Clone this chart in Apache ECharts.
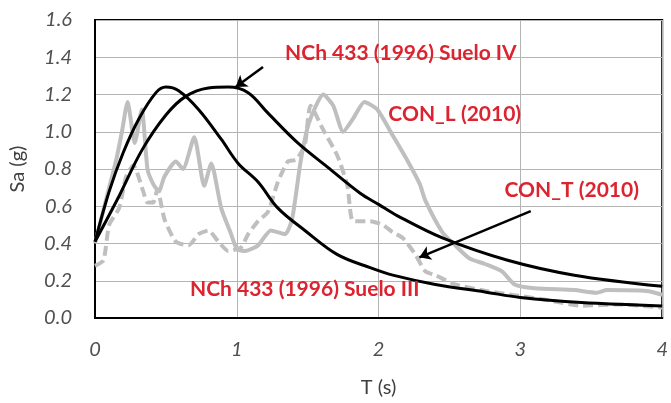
<!DOCTYPE html>
<html>
<head>
<meta charset="utf-8">
<script src="https://cdn.jsdelivr.net/npm/echarts@6/dist/echarts.min.js"></script>
<style>
  html, body { margin: 0; padding: 0; background: #fff; }
  #chart { width: 671px; height: 403px; }
</style>
</head>
<body>
<div id="chart"></div>
<script>
// ── Data (T in s, Sa in g) ────────────────────────────────────────────────────
var tSuelo3  = [0, 0.1, 0.2, 0.31, 0.43, 0.5, 0.59, 0.73, 0.89, 1.01, 1.15, 1.29, 1.48, 1.71, 1.94, 2.1, 2.4, 2.75, 3.0, 3.43, 4.0];
var saSuelo3 = [0.41, 0.68, 0.89, 1.07, 1.21, 1.24, 1.22, 1.12, 0.96, 0.83, 0.73, 0.59, 0.47, 0.34, 0.27, 0.23, 0.18, 0.14, 0.11, 0.083, 0.065];

var tSuelo4  = [0, 0.16, 0.33, 0.5, 0.64, 0.8, 0.94, 1.08, 1.22, 1.43, 1.64, 1.87, 2.0, 2.13, 2.45, 2.91, 3.38, 4.0];
var saSuelo4 = [0.41, 0.64, 0.90, 1.09, 1.19, 1.235, 1.24, 1.21, 1.10, 0.94, 0.81, 0.67, 0.61, 0.55, 0.43, 0.31, 0.23, 0.17];

var tConL  = [0, 0.05, 0.1, 0.15, 0.19, 0.23, 0.28, 0.33, 0.37, 0.41, 0.45, 0.49, 0.57, 0.62, 0.70, 0.77, 0.82, 0.89, 0.96, 1.0, 1.06, 1.15, 1.24, 1.34, 1.39, 1.45, 1.51, 1.61, 1.68, 1.75, 1.82, 1.90, 1.99, 2.10, 2.2, 2.29, 2.33, 2.45, 2.54, 2.64, 2.75, 2.87, 2.96, 3.1, 3.38, 3.54, 3.61, 3.89, 4.0];
var saConL = [0.40, 0.55, 0.70, 0.85, 1.0, 1.16, 0.94, 1.12, 0.80, 0.72, 0.68, 0.76, 0.84, 0.80, 0.97, 0.71, 0.83, 0.59, 0.45, 0.37, 0.36, 0.39, 0.47, 0.45, 0.53, 0.84, 1.05, 1.20, 1.14, 1.00, 1.07, 1.16, 1.12, 0.98, 0.85, 0.72, 0.63, 0.46, 0.39, 0.32, 0.29, 0.25, 0.18, 0.16, 0.15, 0.136, 0.15, 0.145, 0.125];

var tConT  = [0, 0.06, 0.10, 0.17, 0.22, 0.27, 0.34, 0.37, 0.41, 0.44, 0.49, 0.57, 0.66, 0.73, 0.80, 0.87, 0.94, 1.03, 1.08, 1.15, 1.22, 1.29, 1.36, 1.42, 1.48, 1.52, 1.61, 1.71, 1.78, 1.82, 1.94, 2.03, 2.10, 2.17, 2.26, 2.33, 2.4, 2.54, 2.75, 2.98, 3.2, 3.43, 3.7, 4.0];
var saConT = [0.28, 0.31, 0.50, 0.59, 0.76, 0.82, 0.68, 0.62, 0.62, 0.69, 0.53, 0.41, 0.39, 0.45, 0.47, 0.41, 0.36, 0.38, 0.45, 0.52, 0.57, 0.73, 0.84, 0.85, 0.93, 1.14, 1.01, 0.87, 0.71, 0.52, 0.52, 0.50, 0.46, 0.43, 0.34, 0.25, 0.23, 0.18, 0.146, 0.12, 0.095, 0.066, 0.073, 0.056];

// annotation labels: text, anchor T, anchor Sa (centre of text)
var noteText = ['NCh 433 (1996) Suelo IV', 'CON_L (2010)', 'CON_T (2010)', 'NCh 433 (1996) Suelo III'];
var noteT    = [2.157, 2.537, 3.362, 1.479];
var noteSa   = [1.424, 1.094, 0.684, 0.152];

// arrows: [tail T, tail Sa, tip T, tip Sa]
var arrows = [
  [1.185, 1.348, 0.992, 1.24],
  [3.073, 0.574, 2.288, 0.326]
];

// ── Helpers ───────────────────────────────────────────────────────────────────
function zip(xs, ys) {
  return xs.map(function(x, i) { return [x, ys[i]]; });
}

var RED = '#dc2430';
var GRAY = '#bfbfbf';

var chart = echarts.init(document.getElementById('chart'), null, { renderer: 'canvas' });

chart.setOption({
  animation: false,
  backgroundColor: '#fff',
  textStyle: { fontFamily: 'Lato, sans-serif' },
  grid: {
    left: 95, right: 2, top: 20, bottom: 82,
    show: true, borderColor: '#000', borderWidth: 2
  },
  xAxis: {
    type: 'value', min: 0, max: 4, interval: 1,
    name: 'T (s)', nameLocation: 'middle', nameGap: 60,
    nameTextStyle: { color: '#404040', fontSize: 20, fontFamily: 'Lato' },
    axisLine: { show: true, lineStyle: { color: '#000', width: 2 } },
    axisTick: { show: false },
    axisLabel: { color: '#505050', fontSize: 20, fontStyle: 'italic', fontFamily: 'Lato', margin: 22 },
    splitLine: { show: true, lineStyle: { color: '#b4b4b4', width: 1 } }
  },
  yAxis: {
    type: 'value', min: 0, max: 1.6, interval: 0.2,
    name: 'Sa (g)', nameLocation: 'middle', nameGap: 67,
    nameTextStyle: { color: '#404040', fontSize: 20, fontFamily: 'Lato' },
    axisLine: { show: true, lineStyle: { color: '#000', width: 2 } },
    axisTick: { show: false },
    axisLabel: {
      color: '#505050', fontSize: 20, fontStyle: 'italic', fontFamily: 'Lato', margin: 23,
      formatter: function(v) { return v.toFixed(1); }
    },
    splitLine: { show: true, lineStyle: { color: '#b4b4b4', width: 1 } }
  },
  series: [
    {
      name: 'CON_T (2010)', type: 'line', data: zip(tConT, saConT),
      showSymbol: false, smooth: 0.2,
      lineStyle: { color: GRAY, width: 4, type: [10, 5] }
    },
    {
      name: 'CON_L (2010)', type: 'line', data: zip(tConL, saConL),
      showSymbol: false, smooth: 0.2,
      lineStyle: { color: GRAY, width: 4 }
    },
    {
      name: 'NCh 433 (1996) Suelo III', type: 'line', data: zip(tSuelo3, saSuelo3),
      showSymbol: false, smooth: 0.35,
      lineStyle: { color: '#000', width: 3 }
    },
    {
      name: 'NCh 433 (1996) Suelo IV', type: 'line', data: zip(tSuelo4, saSuelo4),
      showSymbol: false, smooth: 0.35,
      lineStyle: { color: '#000', width: 3 },
      markLine: {
        silent: true,
        symbol: ['none', 'arrow'], symbolSize: [11, 11],
        lineStyle: { color: '#000', width: 2.5, type: 'solid' },
        label: { show: false },
        data: arrows.map(function(a) {
          return [{ coord: [a[0], a[1]] }, { coord: [a[2], a[3]] }];
        })
      },
      markPoint: {
        silent: true,
        symbol: 'circle', symbolSize: 0,
        label: {
          show: true, position: 'inside', color: RED,
          fontSize: 21, fontWeight: 'bold', fontFamily: 'Lato',
          formatter: function(p) { return p.name; }
        },
        data: noteText.map(function(t, i) {
          return { name: t, coord: [noteT[i], noteSa[i]] };
        })
      }
    }
  ]
});
</script>
</body>
</html>
